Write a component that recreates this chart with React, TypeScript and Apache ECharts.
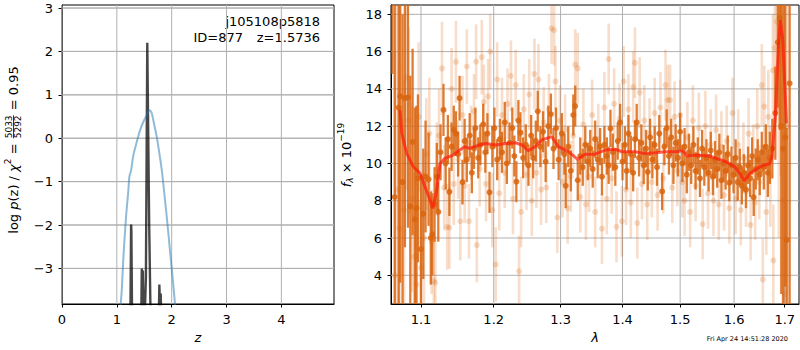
import React, { useEffect, useRef } from "react";
import * as echarts from "echarts";

// ---------- left panel: log p(z) ----------
const zTicks = [0, 1, 2, 3, 4];
const pTicks = [-3, -2, -1, 0, 1, 2, 3];
const zBlue = [1.0, 1.06, 1.09, 1.12, 1.168, 1.21, 1.228, 1.26, 1.3, 1.36, 1.423, 1.484, 1.54, 1.593, 1.63, 1.666, 1.728, 1.77, 1.82, 1.86, 1.91, 1.98, 2.06, 2.12];
const pBlue = [-6, -4.0, -3.5, -2.73, -1.81, -1.2, -0.89, -0.74, -0.4, -0.1, 0.18, 0.38, 0.52, 0.645, 0.6, 0.41, 0.03, -0.3, -0.74, -1.2, -1.81, -2.73, -3.82, -5];
const zBlack = [1.2, 1.245, 1.26, 1.265, 1.28, 1.42, 1.445, 1.455, 1.465, 1.475, 1.485, 1.5, 1.53, 1.555, 1.562, 1.59, 1.62, 1.74, 1.765, 1.775, 1.79, 1.8, 1.81, 1.83, 1.9];
const pBlack = [-8, -4.5, -1.99, -2.1, -4.5, -6, -4.2, -3.0, -3.8, -3.05, -4.2, -4.5, -3.2, 2.2, 2.2, -2, -4.5, -6, -4.2, -3.37, -4.0, -3.58, -4.2, -6, -8];

// ---------- right panel: spectrum ----------
const lamTicks = [1.1, 1.2, 1.3, 1.4, 1.5, 1.6, 1.7];
const fTicks = [4, 6, 8, 10, 12, 14, 16, 18];
const lamModel = [1.0727, 1.075, 1.0813, 1.09, 1.0987, 1.1053, 1.1119, 1.1155, 1.1208, 1.1253, 1.132, 1.1432, 1.1523, 1.159, 1.1658, 1.1797, 1.189, 1.2029, 1.2172, 1.2318, 1.2415, 1.2503, 1.2612, 1.2711, 1.2827, 1.2862, 1.2966, 1.3122, 1.3269, 1.3387, 1.3548, 1.3712, 1.3878, 1.3988, 1.4212, 1.4356, 1.456, 1.4737, 1.4917, 1.504, 1.5131, 1.5285, 1.5534, 1.566, 1.585, 1.601, 1.611, 1.6195, 1.6308, 1.6506, 1.6573, 1.6694, 1.6742, 1.681, 1.6878, 1.6912, 1.696, 1.7, 1.7036];
const fModel = [12.87, 11.62, 10.54, 9.82, 9.47, 8.75, 8.04, 7.59, 8.57, 10.0, 10.27, 10.45, 10.72, 10.9, 10.81, 10.99, 11.07, 10.99, 11.07, 11.11, 10.99, 10.68, 10.9, 11.26, 11.4, 11.44, 10.9, 10.63, 10.22, 10.49, 10.5, 10.72, 10.76, 10.63, 10.63, 10.54, 10.58, 10.63, 10.63, 10.68, 10.4, 10.45, 10.4, 10.27, 10.09, 9.82, 9.47, 9.07, 9.47, 9.82, 9.9, 9.97, 10.36, 12.51, 16.62, 17.69, 16.62, 14.3, 12.15];

// [lambda, flux, error]
const darkPts = [
  [1.063, 19.5, 4.7], [1.066, 8.2, 14], [1.071, 13.0, 12], [1.073, 13.6, 10], [1.076, 9.0, 9], [1.079, 13.5, 8],
  [1.083, 13.55, 7], [1.086, 7.7, 7], [1.089, 11.15, 5], [1.092, 7.0, 6], [1.094, 7.6, 5.5], [1.096, 9.2, 4.5],
  [1.1, 5.4, 4], [1.103, 7.3, 3.5], [1.106, 9.3, 3], [1.11, 9.15, 2.5], [1.113, 6.0, 2.5], [1.115, 6.2, 2.2],
  [1.118, 7.8, 2], [1.121, 9.3, 1.8], [1.123, 7.4, 1.6], [1.126, 10.6, 1.5], [1.13, 12.87, 1.4], [1.133, 10.0, 1.4],
  [1.136, 11.3, 1.3], [1.138, 8.48, 1.3], [1.141, 10.9, 1.3], [1.144, 11.8, 1.3], [1.147, 11.6, 1.2], [1.15, 10.5, 1.2],
  [1.152, 13.5, 1.2], [1.156, 9.0, 1.2], [1.159, 11.2, 1.2], [1.162, 10.2, 1.2], [1.166, 11.5, 1.2], [1.169, 9.5, 1.1],
  [1.172, 10.8, 1.1], [1.174, 11.9, 1.1], [1.178, 10.3, 1.1], [1.181, 11.0, 1.1], [1.185, 12.1, 1.1], [1.188, 10.6, 1.1],
  [1.191, 11.6, 1.1], [1.194, 8.45, 1.1], [1.198, 10.9, 1.1], [1.201, 11.9, 1.1], [1.205, 10.2, 1.1], [1.209, 11.3, 1.1],
  [1.212, 10.6, 1.1], [1.216, 12.2, 1.1], [1.219, 10.0, 1.1], [1.223, 11.1, 1.1], [1.227, 11.9, 1.1], [1.23, 10.4, 1.1],
  [1.233, 9.02, 1.1], [1.236, 12.3, 1.1], [1.239, 11.65, 1.1], [1.243, 10.3, 1.1], [1.247, 11.0, 1.1], [1.251, 9.9, 1.1],
  [1.255, 11.5, 1.1], [1.258, 10.3, 1.1], [1.262, 11.2, 1.1], [1.265, 12.8, 1.1], [1.269, 10.9, 1.1], [1.273, 11.7, 1.1],
  [1.277, 10.1, 1.1], [1.281, 12.0, 1.1], [1.285, 12.65, 1.1], [1.289, 10.8, 1.1], [1.293, 11.9, 1.1], [1.297, 10.2, 1.1],
  [1.302, 11.6, 1.1], [1.306, 10.5, 1.1], [1.308, 8.8, 1.2], [1.312, 10.9, 1.1], [1.316, 9.6, 1.1], [1.32, 12.6, 1.1],
  [1.323, 13.08, 1.1], [1.327, 9.1, 1.1], [1.331, 10.4, 1.0], [1.335, 9.8, 1.0], [1.339, 11.0, 1.0], [1.343, 10.1, 1.0],
  [1.347, 10.8, 1.0], [1.351, 9.7, 1.0], [1.355, 11.3, 1.0], [1.359, 10.2, 1.0], [1.363, 10.9, 1.0], [1.366, 9.29, 1.0],
  [1.37, 11.0, 1.0], [1.374, 10.4, 1.0], [1.377, 9.9, 1.0], [1.38, 11.88, 1.0], [1.384, 10.6, 1.0], [1.388, 9.8, 1.0],
  [1.392, 11.2, 1.0], [1.396, 12.2, 1.0], [1.4, 10.1, 1.0], [1.404, 11.0, 1.0], [1.407, 9.6, 1.0], [1.41, 11.6, 1.0],
  [1.414, 10.5, 1.0], [1.418, 9.5, 1.0], [1.421, 11.3, 1.0], [1.424, 12.2, 1.0], [1.428, 10.3, 1.0], [1.432, 11.1, 1.0],
  [1.436, 9.9, 1.0], [1.44, 10.8, 1.0], [1.443, 9.55, 1.0], [1.447, 11.4, 1.0], [1.451, 10.2, 1.0], [1.455, 11.0, 1.0],
  [1.459, 9.8, 1.0], [1.463, 11.6, 1.0], [1.468, 8.5, 1.0], [1.472, 10.9, 1.0], [1.476, 11.9, 1.0], [1.48, 10.4, 1.0],
  [1.484, 11.4, 1.0], [1.488, 9.9, 1.0], [1.492, 11.1, 1.0], [1.496, 10.3, 1.0], [1.5, 11.7, 1.0], [1.504, 10.0, 1.0],
  [1.508, 10.9, 1.0], [1.512, 9.4, 1.0], [1.516, 10.6, 1.0], [1.52, 9.9, 1.0], [1.524, 11.0, 1.0], [1.528, 9.6, 1.0],
  [1.532, 10.4, 1.0], [1.536, 9.2, 1.0], [1.54, 10.8, 1.0], [1.544, 9.8, 1.0], [1.548, 10.3, 1.0], [1.552, 9.5, 1.0],
  [1.556, 10.7, 1.0], [1.56, 9.3, 1.0], [1.564, 10.2, 1.0], [1.568, 9.7, 1.0], [1.572, 10.6, 1.0], [1.576, 9.1, 1.0],
  [1.58, 10.0, 1.0], [1.584, 9.6, 1.0], [1.588, 10.5, 1.0], [1.591, 8.97, 1.0], [1.595, 9.9, 1.0], [1.599, 9.4, 1.0],
  [1.603, 10.3, 1.0], [1.607, 9.0, 1.0], [1.611, 9.8, 1.0], [1.615, 8.8, 1.0], [1.619, 9.5, 1.0], [1.623, 8.6, 1.0],
  [1.627, 9.9, 1.0], [1.631, 9.2, 1.0], [1.635, 10.4, 1.0], [1.638, 8.18, 1.0], [1.642, 9.7, 1.1], [1.646, 10.2, 1.1],
  [1.65, 9.4, 1.1], [1.654, 10.6, 1.1], [1.658, 9.8, 1.2], [1.662, 10.9, 1.2], [1.666, 9.5, 1.3], [1.67, 10.3, 1.4],
  [1.675, 10.8, 1.6], [1.681, 12.7, 2.5], [1.686, 16.5, 3.5], [1.69, 17.8, 6], [1.693, 12.0, 9], [1.697, 10.8, 9],
  [1.701, 11.4, 8], [1.704, 5.9, 6], [1.71, 14.3, 12]
];

const lightPts = [
  [1.066, 4.0, 12], [1.069, 8.6, 10], [1.072, 6.5, 9], [1.078, 7.5, 7], [1.081, 14.6, 6], [1.084, 12.3, 5],
  [1.088, 8.1, 5], [1.091, 5.0, 4.5], [1.094, 3.5, 4], [1.097, 12.5, 4], [1.1, 4.4, 3.5], [1.104, 6.0, 3.5],
  [1.107, 10.5, 3], [1.111, 11.6, 3], [1.114, 5.8, 2.8], [1.117, 3.7, 2.5], [1.119, 3.6, 2.5], [1.121, 9.7, 2.5],
  [1.124, 11.5, 2.5], [1.128, 15.1, 2.5], [1.131, 8.7, 2.3], [1.135, 6.6, 2.3], [1.138, 6.55, 2.2], [1.141, 14.0, 2.2],
  [1.144, 8.9, 2.2], [1.147, 15.45, 2.2], [1.15, 10.2, 2.1], [1.153, 6.9, 2.1], [1.156, 12.6, 2.1], [1.159, 8.8, 2.0],
  [1.162, 15.2, 2.0], [1.165, 6.9, 2.0], [1.168, 11.1, 2.0], [1.172, 12.8, 2.0], [1.175, 15.46, 2.0], [1.176, 5.62, 2.0],
  [1.18, 9.7, 2.0], [1.183, 15.7, 2.0], [1.186, 13.3, 2.0], [1.189, 8.9, 2.0], [1.192, 13.6, 2.0], [1.195, 16.0, 2.0],
  [1.198, 7.5, 2.0], [1.203, 4.58, 2.0], [1.205, 14.5, 2.0], [1.208, 8.4, 2.0], [1.212, 12.6, 2.0], [1.216, 9.5, 1.9],
  [1.22, 13.2, 1.9], [1.225, 14.7, 1.9], [1.228, 8.1, 1.9], [1.232, 14.2, 1.9], [1.237, 4.22, 1.9], [1.24, 7.4, 1.9],
  [1.244, 12.9, 1.9], [1.248, 9.4, 1.9], [1.252, 13.7, 1.9], [1.256, 8.0, 1.9], [1.26, 14.8, 1.9], [1.263, 9.5, 1.9],
  [1.266, 14.5, 1.9], [1.27, 8.6, 1.9], [1.274, 12.2, 1.9], [1.278, 8.7, 1.9], [1.282, 12.9, 1.9], [1.286, 17.25, 1.9],
  [1.29, 17.15, 1.9], [1.292, 14.4, 1.9], [1.295, 7.1, 1.9], [1.299, 12.3, 1.9], [1.303, 9.0, 1.9], [1.307, 11.8, 1.9],
  [1.311, 7.6, 1.9], [1.316, 9.3, 1.9], [1.32, 11.5, 1.9], [1.323, 15.3, 1.9], [1.327, 15.1, 1.9], [1.331, 8.2, 1.9],
  [1.336, 12.1, 1.9], [1.34, 7.8, 1.9], [1.345, 9.3, 1.9], [1.35, 12.6, 1.9], [1.355, 7.4, 1.9], [1.36, 11.3, 1.9],
  [1.366, 6.5, 1.9], [1.37, 13.0, 1.9], [1.374, 8.1, 1.9], [1.377, 15.6, 1.9], [1.382, 9.2, 1.9], [1.386, 13.2, 1.9],
  [1.39, 6.6, 1.9], [1.395, 12.4, 1.9], [1.399, 6.9, 1.9], [1.402, 14.4, 1.9], [1.406, 8.6, 1.9], [1.41, 12.9, 1.9],
  [1.414, 7.9, 1.9], [1.418, 14.1, 1.9], [1.421, 15.4, 1.9], [1.425, 6.8, 1.9], [1.429, 13.8, 1.9], [1.433, 8.9, 1.9],
  [1.437, 12.3, 1.9], [1.442, 7.8, 1.9], [1.446, 11.6, 1.9], [1.45, 9.0, 1.9], [1.455, 12.7, 1.9], [1.46, 8.3, 1.9],
  [1.465, 13.0, 1.9], [1.47, 9.2, 1.9], [1.474, 14.2, 1.9], [1.478, 13.4, 1.9], [1.482, 13.4, 1.9], [1.486, 8.7, 1.9],
  [1.49, 12.5, 1.9], [1.495, 9.6, 1.9], [1.5, 12.6, 1.9], [1.504, 9.0, 1.9], [1.508, 8.0, 1.9], [1.513, 11.4, 1.9],
  [1.518, 7.4, 1.9], [1.523, 12.3, 1.9], [1.528, 8.8, 1.9], [1.534, 11.9, 1.9], [1.541, 6.75, 1.9], [1.546, 12.0, 1.9],
  [1.551, 8.4, 1.9], [1.556, 11.0, 1.9], [1.561, 8.0, 1.9], [1.566, 11.8, 1.9], [1.571, 7.8, 1.9], [1.576, 10.9, 1.9],
  [1.581, 8.3, 1.9], [1.586, 11.2, 1.9], [1.591, 7.6, 1.9], [1.597, 12.7, 1.9], [1.603, 8.1, 1.9], [1.608, 11.0, 1.9],
  [1.613, 7.5, 1.9], [1.618, 10.3, 1.9], [1.623, 8.5, 1.9], [1.628, 11.6, 1.9], [1.632, 6.7, 1.9], [1.637, 10.2, 1.9],
  [1.641, 7.9, 2.0], [1.645, 12.0, 2.0], [1.649, 9.0, 2.0], [1.654, 14.2, 2.2], [1.656, 3.78, 2.2], [1.659, 13.05, 2.2],
  [1.663, 7.4, 2.3], [1.667, 12.5, 2.5], [1.671, 9.3, 2.7], [1.676, 15.0, 3], [1.677, 4.8, 3], [1.68, 16.2, 4],
  [1.684, 17.6, 5], [1.688, 13.0, 7], [1.692, 17.3, 8], [1.696, 8.0, 9], [1.7, 3.0, 9], [1.705, 12.0, 10]
];

const FONT = "DejaVu Sans";
const ORANGE = "#d9650f";
const GRIDC = "#b0b0b0";

function errRender(color: string, opacity: number, w: number) {
  return (params: any, api: any) => {
    const x = api.value(0);
    const y = api.value(1);
    const e = api.value(2);
    const c = api.coord([x, y]);
    const t = api.coord([x, y + e]);
    const b = api.coord([x, y - e]);
    return {
      type: "group",
      children: [
        { type: "line", shape: { x1: c[0], y1: t[1], x2: c[0], y2: b[1] }, style: { stroke: color, lineWidth: w, opacity } },
        { type: "circle", shape: { cx: c[0], cy: c[1], r: 3 }, style: { fill: color, opacity } },
      ],
    };
  };
}

// grid lines: item = [x, y, kind]; kind 0 = vertical at x, 1 = horizontal at y
function gridRender(yr: number[]) {
  return (params: any, api: any) => {
    const cs = params.coordSys;
    const kind = api.value(2);
    if (kind === 0) {
      const px = api.coord([api.value(0), api.value(1)])[0];
      return { type: "line", shape: { x1: px, y1: cs.y, x2: px, y2: cs.y + cs.height }, style: { stroke: GRIDC, lineWidth: 1 } };
    }
    const v = api.value(1);
    let py = api.coord([api.value(0), v])[1];
    if (!isFinite(py) || py < cs.y - 1 || py > cs.y + cs.height + 1) {
      py = cs.y + (cs.height * (yr[1] - v)) / (yr[1] - yr[0]);
    }
    return { type: "line", shape: { x1: cs.x, y1: py, x2: cs.x + cs.width, y2: py }, style: { stroke: GRIDC, lineWidth: 1 } };
  };
}

type Part = { text?: string; size: number; italic?: boolean; dy?: number; frac?: [string, string] };

function rotatedLabel(parts: Part[], cx: number, cy: number) {
  const ctx = document.createElement("canvas").getContext("2d")!;
  const measure = (t: string, size: number, italic?: boolean) => {
    ctx.font = `${italic ? "italic " : ""}${size}px "${FONT}"`;
    return ctx.measureText(t).width;
  };
  const children: any[] = [];
  let x = 0;
  for (const p of parts) {
    if (p.frac) {
      const w = Math.max(measure(p.frac[0], p.size), measure(p.frac[1], p.size));
      children.push({ type: "text", x: x + 1 + w / 2, y: -4.5, style: { text: p.frac[0], fontSize: p.size, fontFamily: FONT, fill: "#000", textAlign: "center", textVerticalAlign: "middle" } });
      children.push({ type: "text", x: x + 1 + w / 2, y: 5, style: { text: p.frac[1], fontSize: p.size, fontFamily: FONT, fill: "#000", textAlign: "center", textVerticalAlign: "middle" } });
      children.push({ type: "line", shape: { x1: x + 1, y1: 0.5, x2: x + 1 + w, y2: 0.5 }, style: { stroke: "#000", lineWidth: 0.8 } });
      x += w + 2;
    } else {
      const t = p.text || "";
      children.push({ type: "text", x, y: p.dy || 0, style: { text: t, fontSize: p.size, fontStyle: p.italic ? "italic" : "normal", fontFamily: FONT, fill: "#000", textAlign: "left", textVerticalAlign: "middle" } });
      x += measure(t, p.size, p.italic);
    }
  }
  return { type: "group", x: cx, y: cy + x / 2, rotation: Math.PI / 2, children };
}

export default function App() {
  const ref = useRef<HTMLDivElement>(null);
  useEffect(() => {
    if (!ref.current) return;
    const chart = echarts.init(ref.current, null, { renderer: "svg" });
    const ln = (v: number) => Math.log(v);
    const axisCommon = {
      axisLine: { show: true, onZero: false, lineStyle: { color: "#000", width: 1 } },
      splitLine: { show: false },
    };
    const tickStyle = { show: true, length: 3.5, lineStyle: { color: "#000" } };
    const labelStyle = { color: "#000", fontSize: 13, fontFamily: FONT };

    const zRange = [0, 4.96];
    const pRange = [-3.82, 3.07];
    const lRange = [ln(1.0612), ln(1.7293)];
    const fRange = [2.46, 18.5];

    const leftGrid = [
      ...zTicks.map((v) => [v, -1, 0]),
      ...pTicks.map((v) => [1, v, 1]),
    ];
    const rightGrid = [
      ...lamTicks.map((v) => [ln(v), 10, 0]),
      ...fTicks.map((v) => [ln(1.3), v, 1]),
    ];

    const leftLabel = rotatedLabel(
      [
        { text: "log ", size: 13 },
        { text: "p", size: 13, italic: true },
        { text: "(z) / ", size: 13 },
        { text: "χ", size: 13, italic: true },
        { text: "2", size: 9, dy: -5 },
        { text: " = ", size: 13 },
        { size: 9, frac: ["5033", "5292"] },
        { text: " = 0.95", size: 13 },
      ],
      13,
      150
    );
    const rightLabel = rotatedLabel(
      [
        { text: "f", size: 13, italic: true },
        { text: "λ", size: 9, italic: true, dy: 4 },
        { text: " × 10", size: 13 },
        { text: "−19", size: 9, dy: -5 },
      ],
      346,
      155
    );

    const baseGraphic: any[] = [
      leftLabel,
      rightLabel,
      { type: "text", x: 320, y: 21, style: { text: "j105108p5818", fontSize: 13, fontFamily: FONT, fill: "#000", textAlign: "right", textVerticalAlign: "middle" } },
      { type: "text", x: 243, y: 37, style: { text: "ID=877", fontSize: 13, fontFamily: FONT, fill: "#000", textAlign: "right", textVerticalAlign: "middle" } },
      { type: "text", x: 320, y: 37, style: { text: "z=1.5736", fontSize: 13, fontFamily: FONT, fill: "#000", textAlign: "right", textVerticalAlign: "middle" } },
      { type: "text", x: 788, y: 339, style: { text: "Fri Apr 24 14:51:28 2020", fontSize: 6.5, fontFamily: FONT, fill: "#000", textAlign: "right", textVerticalAlign: "middle" } },
    ];

    chart.setOption({
      animation: false,
      textStyle: { fontFamily: FONT },
      grid: [
        { left: 62, top: 5, width: 272, height: 299, show: true, borderColor: "#000", borderWidth: 1, backgroundColor: "transparent" },
        { left: 391, top: 5, width: 408, height: 299, show: true, borderColor: "#000", borderWidth: 1, backgroundColor: "transparent" },
      ],
      xAxis: [
        {
          type: "value", gridIndex: 0, min: zRange[0], max: zRange[1], ...axisCommon,
          axisTick: { ...tickStyle, customValues: zTicks },
          axisLabel: { ...labelStyle, margin: 9, customValues: zTicks },
          name: "z", nameLocation: "middle", nameGap: 27,
          nameTextStyle: { fontSize: 13, fontStyle: "italic", color: "#000", fontFamily: FONT },
        },
        {
          type: "value", gridIndex: 1, min: lRange[0], max: lRange[1], ...axisCommon,
          axisTick: { ...tickStyle, customValues: lamTicks.map(ln) },
          axisLabel: { ...labelStyle, margin: 9, customValues: lamTicks.map(ln), formatter: (v: number) => Math.exp(v).toFixed(1) },
          name: "λ", nameLocation: "middle", nameGap: 27,
          nameTextStyle: { fontSize: 13, fontStyle: "italic", color: "#000", fontFamily: FONT },
        },
      ],
      yAxis: [
        {
          type: "value", gridIndex: 0, min: pRange[0], max: pRange[1], ...axisCommon,
          axisTick: { ...tickStyle, customValues: pTicks },
          axisLabel: { ...labelStyle, margin: 9, customValues: pTicks, formatter: (v: number) => (v < 0 ? "\u2212" + Math.abs(v) : String(v)) },
        },
        {
          type: "value", gridIndex: 1, min: fRange[0], max: fRange[1], ...axisCommon,
          axisTick: { ...tickStyle, customValues: fTicks },
          axisLabel: { ...labelStyle, margin: 9, customValues: fTicks },
        },
      ],
      series: [
        {
          type: "custom", xAxisIndex: 0, yAxisIndex: 0, z: 1, silent: true, clip: false,
          renderItem: gridRender(pRange), encode: { x: 0, y: 1 }, data: leftGrid,
        },
        {
          type: "line", xAxisIndex: 0, yAxisIndex: 0, showSymbol: false, clip: true, z: 2,
          data: zBlack.map((z, i) => [z, pBlack[i]]),
          lineStyle: { color: "#000", opacity: 0.72, width: 2.4 },
        },
        {
          type: "line", xAxisIndex: 0, yAxisIndex: 0, showSymbol: false, clip: true, smooth: 0.3, z: 3,
          data: zBlue.map((z, i) => [z, pBlue[i]]),
          lineStyle: { color: "#1f77b4", opacity: 0.5, width: 2 },
        },
        {
          type: "custom", xAxisIndex: 1, yAxisIndex: 1, z: 1, silent: true, clip: false,
          renderItem: gridRender(fRange), encode: { x: 0, y: 1 }, data: rightGrid,
        },
        {
          type: "custom", xAxisIndex: 1, yAxisIndex: 1, clip: true, z: 2,
          renderItem: errRender(ORANGE, 0.22, 2.6),
          encode: { x: 0, y: 1 },
          data: lightPts.map((p) => [ln(p[0]), p[1], p[2]]),
        },
        {
          type: "custom", xAxisIndex: 1, yAxisIndex: 1, clip: true, z: 3,
          renderItem: errRender(ORANGE, 0.85, 2.3),
          encode: { x: 0, y: 1 },
          data: darkPts.map((p) => [ln(p[0]), p[1], p[2]]),
        },
        {
          type: "line", xAxisIndex: 1, yAxisIndex: 1, showSymbol: false, clip: true, z: 4,
          data: lamModel.map((l, i) => [ln(l), fModel[i]]),
          lineStyle: { color: "#ff1a0a", opacity: 0.7, width: 3 },
        },
      ],
      graphic: baseGraphic,
    });

    // extra horizontal grid lines for the left panel, placed through the axis scale
    try {
      const extra: any[] = [];
      for (const v of pTicks) {
        const a = chart.convertToPixel({ gridIndex: 0 } as any, [zRange[0], v]) as any;
        const b = chart.convertToPixel({ gridIndex: 0 } as any, [zRange[1], v]) as any;
        if (a && b && isFinite(a[1])) {
          extra.push({ type: "line", z: 0, silent: true, shape: { x1: a[0], y1: a[1], x2: b[0], y2: b[1] }, style: { stroke: GRIDC, lineWidth: 1 } });
        }
      }
      if (extra.length) chart.setOption({ graphic: [...baseGraphic, ...extra] });
    } catch (e) {
      // keep chart as is
    }
    return () => chart.dispose();
  }, []);
  return <div ref={ref} style={{ width: 800, height: 350, position: "absolute", left: 0, top: 0 }} />;
}
